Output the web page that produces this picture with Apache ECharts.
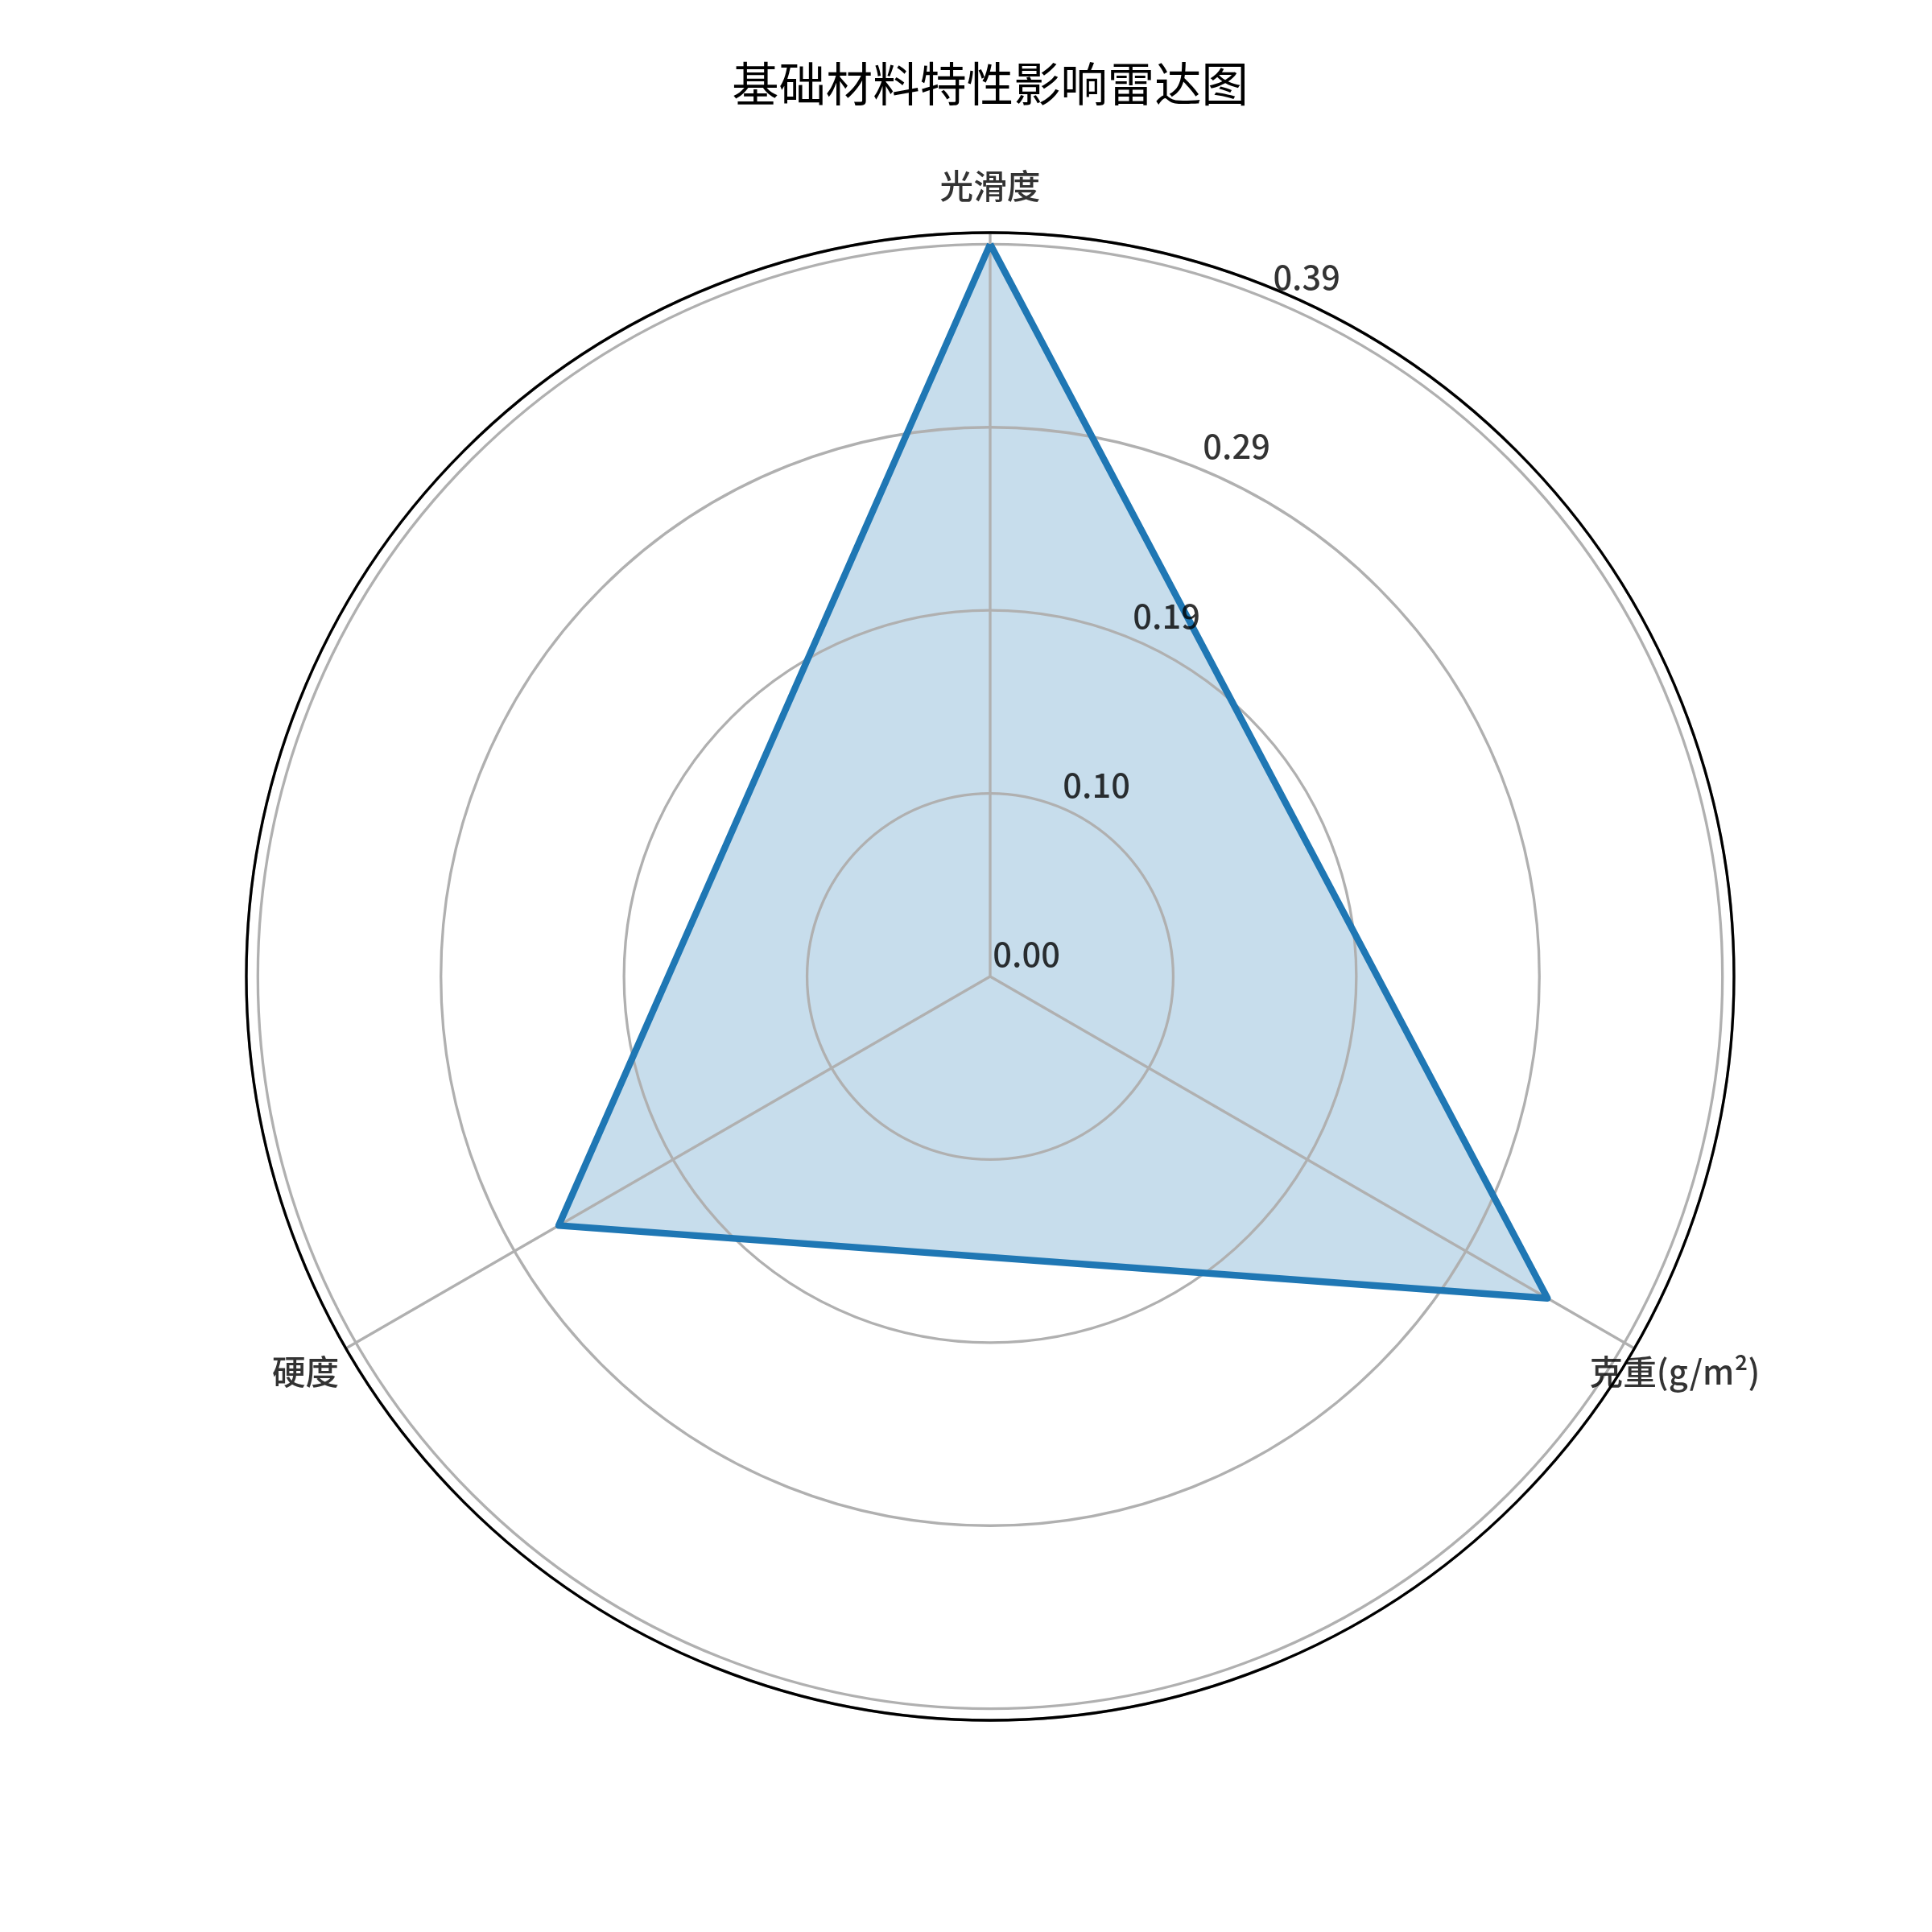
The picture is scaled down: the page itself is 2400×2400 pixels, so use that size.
<!DOCTYPE html>
<html>
<head>
<meta charset="utf-8">
<script src="https://cdn.jsdelivr.net/npm/echarts@6/dist/echarts.min.js"></script>
<style>
html, body { margin: 0; padding: 0; background: #ffffff; }
#chart { width: 2400px; height: 2400px; }
</style>
</head>
<body>
<div id="chart"></div>
<script>
const chartTitle = '基础材料特性影响雷达图';
const categories = ['光滑度', '克重(g/m²)', '硬度'];
const values = [0.388, 0.341, 0.264];
const tickValues = [0, 0.097, 0.194, 0.291, 0.388];
const tickLabels = ['0.00', '0.10', '0.19', '0.29', '0.39'];
const radiusMax = 0.3941;

const FONT = "'Noto Sans CJK SC', 'DejaVu Sans', sans-serif";
const WEIGHT = 500;
const GRID = '#b0b0b0';
const BLUE = '#1f77b4';

const n = categories.length;
const step = 360 / n;
const angles = categories.map((c, i) => i * step);
const lineData = values.map((v, i) => [v, angles[i]]);
lineData.push([values[0], 360]);
const tickData = tickValues.map(v => [v, 22.5]);
const catLabelData = angles.map(a => [1, a]);

const chart = echarts.init(document.getElementById('chart'), null, { renderer: 'canvas' });
chart.setOption({
  animation: false,
  backgroundColor: '#ffffff',
  title: {
    text: chartTitle,
    left: 1230,
    top: 75,
    textAlign: 'center',
    padding: 0,
    textStyle: { fontSize: 58.33, fontWeight: 'normal', color: '#000000', fontFamily: FONT }
  },
  polar: [
    { center: [1230, 1213], radius: 924 },
    { center: [1230, 1213], radius: 982 }
  ],
  angleAxis: [
    {
      polarIndex: 0, type: 'value', min: 0, max: 360, interval: step,
      startAngle: 90, clockwise: true, z: 3,
      axisLine: { show: true, lineStyle: { color: '#000000', width: 3.3 } },
      axisTick: { show: false },
      axisLabel: { show: false },
      splitLine: { show: true, lineStyle: { color: GRID, width: 3.3 } }
    },
    {
      polarIndex: 1, type: 'value', min: 0, max: 360, startAngle: 90, clockwise: true,
      show: false
    }
  ],
  radiusAxis: [
    {
      polarIndex: 0, type: 'value', min: 0, max: radiusMax, interval: tickValues[1], z: 1,
      axisLine: { show: false },
      axisTick: { show: false },
      axisLabel: { show: false },
      splitLine: { show: true, lineStyle: { color: GRID, width: 3.3 } }
    },
    {
      polarIndex: 1, type: 'value', min: 0, max: 1, show: false
    }
  ],
  series: [
    {
      type: 'line',
      coordinateSystem: 'polar',
      polarIndex: 0,
      data: lineData,
      showSymbol: false,
      symbol: 'none',
      silent: true,
      z: 0,
      lineStyle: { width: 0, opacity: 0 },
      areaStyle: { color: BLUE, opacity: 0.25 }
    },
    {
      type: 'line',
      coordinateSystem: 'polar',
      polarIndex: 0,
      data: lineData,
      showSymbol: false,
      symbol: 'none',
      silent: true,
      z: 20,
      lineStyle: { color: BLUE, width: 8.3, join: 'round' }
    },
    {
      type: 'scatter',
      coordinateSystem: 'polar',
      polarIndex: 0,
      data: tickData,
      symbolSize: 0.5,
      clip: false,
      silent: true,
      z: 25,
      itemStyle: { color: 'transparent' },
      label: {
        show: true,
        position: 'right',
        distance: 3,
        offset: [0, -28],
        formatter: p => tickLabels[p.dataIndex],
        fontSize: 41.67,
        fontWeight: WEIGHT,
        color: '#000000',
        fontFamily: FONT
      }
    },
    {
      type: 'scatter',
      coordinateSystem: 'polar',
      polarIndex: 1,
      data: catLabelData,
      symbolSize: 0.5,
      clip: false,
      silent: true,
      z: 25,
      itemStyle: { color: 'transparent' },
      label: {
        show: true,
        position: 'inside',
        formatter: p => categories[p.dataIndex],
        fontSize: 41.67,
        fontWeight: WEIGHT,
        color: '#000000',
        fontFamily: FONT
      }
    }
  ]
});
</script>
</body>
</html>
